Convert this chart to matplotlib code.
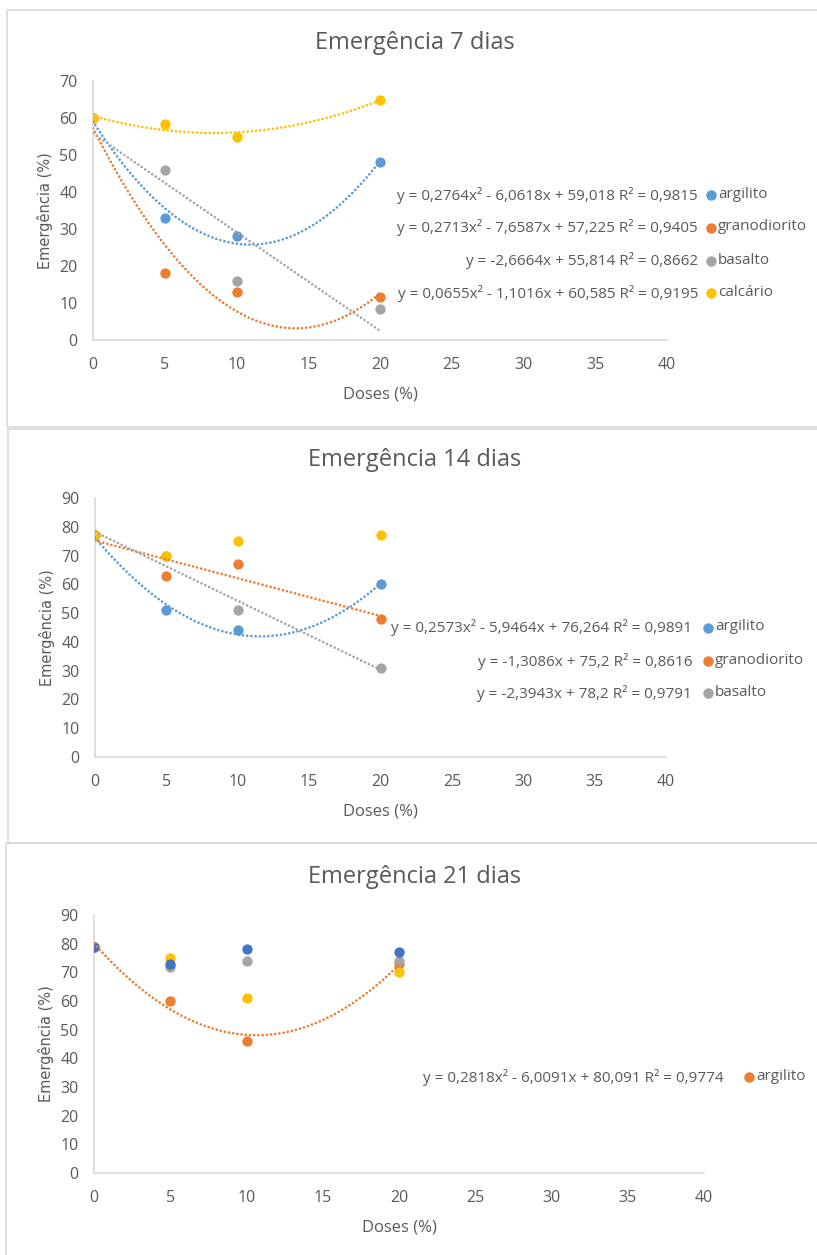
import matplotlib
matplotlib.use("Agg")
import matplotlib.pyplot as plt
import numpy as np
from matplotlib.patches import Rectangle

plt.rcParams['font.family'] = ['Open Sans', 'DejaVu Sans']

W, H = 817, 1255
doses = [0, 5, 10, 20]

# ---- Panel 1: Emergência 7 dias
p1_argilito = [60, 33, 28, 48]
p1_granodiorito = [60, 18, 13, 11.5]
p1_basalto = [60, 46, 16, 8.5]
p1_calcario = [60, 58.5, 55, 65]
p1_fit_argilito = [0.2764, -6.0618, 59.018]
p1_fit_granodiorito = [0.2713, -7.6587, 57.225]
p1_fit_basalto = [-2.6664, 55.814]
p1_fit_calcario = [0.0655, -1.1016, 60.585]
p1_eqs = ["y = 0,2764x² - 6,0618x + 59,018 R² = 0,9815",
          "y = 0,2713x² - 7,6587x + 57,225 R² = 0,9405",
          "y = -2,6664x + 55,814 R² = 0,8662",
          "y = 0,0655x² - 1,1016x + 60,585 R² = 0,9195"]
p1_names = ["argilito", "granodiorito", "basalto", "calcário"]

# ---- Panel 2: Emergência 14 dias
p2_argilito = [77, 51, 44, 60]
p2_granodiorito = [77, 63, 67, 48]
p2_basalto = [77, 70, 51, 31]
p2_calcario = [77, 70, 75, 77]
p2_fit_argilito = [0.2573, -5.9464, 76.264]
p2_fit_granodiorito = [-1.3086, 75.2]
p2_fit_basalto = [-2.3943, 78.2]
p2_eqs = ["y = 0,2573x² - 5,9464x + 76,264 R² = 0,9891",
          "y = -1,3086x + 75,2 R² = 0,8616",
          "y = -2,3943x + 78,2 R² = 0,9791"]
p2_names = ["argilito", "granodiorito", "basalto"]

# ---- Panel 3: Emergência 21 dias
p3_argilito = [79, 60, 46, 73]
p3_basalto = [79, 72, 74, 74]
p3_calcario = [79, 75, 61, 70]
p3_outro = [79, 73, 78, 77]
p3_fit_argilito = [0.2818, -6.0091, 80.091]
p3_eqs = ["y = 0,2818x² - 6,0091x + 80,091 R² = 0,9774"]
p3_names = ["argilito"]

BLUE = "#5B9BD5"
ORANGE = "#ED7D31"
GRAY = "#A5A5A5"
YELLOW = "#FFC000"
DBLUE = "#4472C4"
TXT = "#595959"
LINE = "#D9D9D9"

fig = plt.figure(figsize=(W / 100, H / 100), dpi=100)


def fx(x):
    return x / W


def fy(y):
    return 1 - y / H


def border(x0, y0, x1, y1):
    fig.add_artist(Rectangle((fx(x0), fy(y1)), fx(x1) - fx(x0), fy(y0) - fy(y1),
                             transform=fig.transFigure, fill=False,
                             edgecolor=LINE, linewidth=1.2))


def make_axes(x0, x1, ytop, ybot, ymax, title, title_y):
    ax = fig.add_axes([fx(x0), fy(ybot), fx(x1) - fx(x0), fy(ytop) - fy(ybot)])
    ax.set_xlim(0, 40)
    ax.set_ylim(0, ymax)
    ax.set_xticks(range(0, 41, 5))
    ax.set_yticks(range(0, ymax + 1, 10))
    for s in ['top', 'right']:
        ax.spines[s].set_visible(False)
    for s in ['left', 'bottom']:
        ax.spines[s].set_color(LINE)
        ax.spines[s].set_linewidth(1.2)
    ax.tick_params(length=0, colors=TXT, labelsize=11.5, pad=11)
    ax.tick_params(axis='x', pad=12)
    ax.set_xlabel("Doses (%)", color=TXT, fontsize=12, labelpad=10)
    ax.set_ylabel("Emergência (%)", color=TXT, fontsize=10.5, labelpad=5,
                  family=['DejaVu Sans'])
    ax.patch.set_alpha(0)
    fig.text(fx(415), fy(title_y), title, ha='center', va='center',
             color=TXT, fontsize=17)
    return ax


def points(ax, ys, color):
    ax.scatter(doses, ys, s=55, color=color, zorder=3, linewidths=0)


def trend(ax, coefs, color):
    xs = np.linspace(0, 20, 200)
    ax.plot(xs, np.polyval(coefs, xs), color=color, linewidth=1.9,
            linestyle=(0, (0.05, 1.55)), dash_capstyle='round', zorder=4)


def legend(rows, eq_right, mk_x, lab_x, eqs, names, colors):
    for y, eq, nm, c in zip(rows, eqs, names, colors):
        fig.text(fx(eq_right), fy(y), eq, ha='right', va='center', color=TXT, fontsize=11)
        fig.add_artist(plt.Line2D([fx(mk_x)], [fy(y)], marker='o', markersize=6.5,
                                  color=c, transform=fig.transFigure, linestyle='none'))
        fig.text(fx(lab_x), fy(y - 1), nm, ha='left', va='center', color=TXT, fontsize=11)


# borders
border(7, 10, 830, 427)
border(8, 429, 830, 843)
border(6, 843, 830, 1270)

# Panel 1
ax1 = make_axes(93, 667, 81, 340, 70, "Emergência 7 dias", 43)
points(ax1, p1_argilito, BLUE)
points(ax1, p1_granodiorito, ORANGE)
points(ax1, p1_basalto, GRAY)
points(ax1, p1_calcario, YELLOW)
trend(ax1, p1_fit_argilito, BLUE)
trend(ax1, p1_fit_granodiorito, ORANGE)
trend(ax1, p1_fit_basalto, GRAY)
trend(ax1, p1_fit_calcario, YELLOW)
legend([195, 228, 261, 293], 698, 711, 718, p1_eqs, p1_names, [BLUE, ORANGE, GRAY, YELLOW])

# Panel 2
ax2 = make_axes(95, 666, 498, 757, 90, "Emergência 14 dias", 460)
points(ax2, p2_argilito, BLUE)
points(ax2, p2_granodiorito, ORANGE)
points(ax2, p2_basalto, GRAY)
points(ax2, p2_calcario, YELLOW)
trend(ax2, p2_fit_argilito, BLUE)
trend(ax2, p2_fit_granodiorito, ORANGE)
trend(ax2, p2_fit_basalto, GRAY)
legend([628, 661, 693], 692, 708, 715, p2_eqs, p2_names, [BLUE, ORANGE, GRAY])

# Panel 3
ax3 = make_axes(94, 704, 915, 1173, 90, "Emergência 21 dias", 877)
points(ax3, p3_argilito, ORANGE)
points(ax3, p3_basalto, GRAY)
points(ax3, p3_calcario, YELLOW)
points(ax3, p3_outro, DBLUE)
trend(ax3, p3_fit_argilito, ORANGE)
legend([1077], 724, 749, 756, p3_eqs, p3_names, [ORANGE])

fig.savefig("out.png", dpi=100, facecolor='white')
